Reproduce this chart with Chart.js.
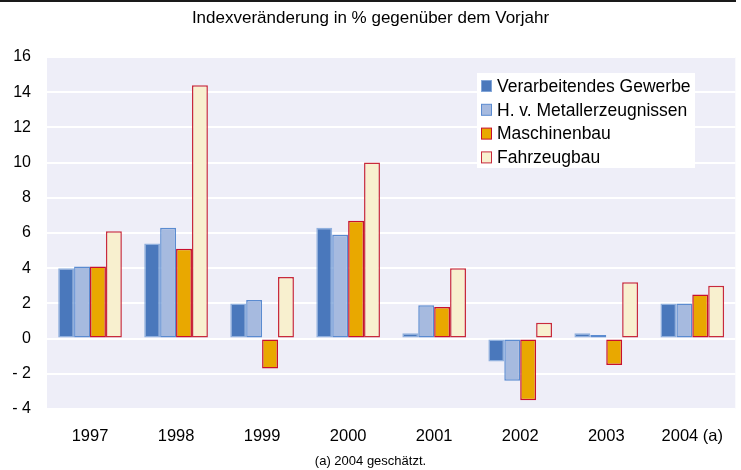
<!DOCTYPE html>
<html lang="de">
<head>
    <meta charset="UTF-8">
    <title>Indexveränderung</title>
    <script src="https://cdn.jsdelivr.net/npm/chart.js"></script>
    <style>
        body {
            margin: 0;
            padding: 0;
            background: #ffffff;
        }
        #wrap {
            width: 741px;
            height: 470px;
        }
    </style>
</head>
<body>
    <div id="wrap"><canvas id="chartCanvas" width="741" height="470"></canvas></div>

    <script>
        // data
        const years = ['1997', '1998', '1999', '2000', '2001', '2002', '2003', '2004 (a)'];
        const seriesNames = ['Verarbeitendes Gewerbe', 'H. v. Metallerzeugnissen', 'Maschinenbau', 'Fahrzeugbau'];
        const verarbeitendes = [4.0, 5.4, 2.0, 6.3, 0.3, -1.3, 0.3, 2.0];
        const metall = [4.1, 6.3, 2.2, 5.9, 1.9, -2.4, 0.2, 2.0];
        const maschinenbau = [4.1, 5.1, -1.7, 6.7, 1.8, -3.5, -1.5, 2.5];
        const fahrzeugbau = [6.1, 14.4, 3.5, 10.0, 4.0, 0.9, 3.2, 3.0];

        const fillColors = ['#4a78bc', '#a6badf', '#e9a800', '#f8f0cf'];
        const lineColors = ['rgba(120,160,215,0.8)', '#5b8bd0', '#c8102e', '#c82a3c'];

        const fontFamily = '"Liberation Sans", Arial, sans-serif';

        // lavender plot area, legend box inside the plot and the dark line on top
        const decoPlugin = {
            id: 'deco',
            beforeDraw(chart) {
                const { ctx, chartArea } = chart;
                ctx.save();
                ctx.fillStyle = '#eeeef8';
                ctx.fillRect(chartArea.left, chartArea.top, chartArea.right - chartArea.left, chartArea.bottom - chartArea.top);
                ctx.restore();
            },
            afterDraw(chart) {
                const ctx = chart.ctx;
                ctx.save();
                ctx.fillStyle = '#1a1a1a';
                ctx.fillRect(0, 0, 736, 2);

                const boxX = 477, boxY = 73, boxW = 218, boxH = 95;
                ctx.fillStyle = '#ffffff';
                ctx.fillRect(boxX, boxY, boxW, boxH);

                ctx.font = '17.5px ' + fontFamily;
                ctx.textBaseline = 'middle';
                chart.data.datasets.forEach((ds, i) => {
                    const cy = 86 + i * 23.8;
                    ctx.fillStyle = ds.backgroundColor;
                    ctx.fillRect(481.5, cy - 5.5, 10, 11);
                    ctx.strokeStyle = ds.borderColor;
                    ctx.lineWidth = 1;
                    ctx.strokeRect(481.5, cy - 5.5, 10, 11);
                    ctx.fillStyle = '#000000';
                    ctx.fillText(ds.label, 497, cy + 1);
                });
                ctx.restore();
            }
        };

        const datasets = [verarbeitendes, metall, maschinenbau, fahrzeugbau].map((vals, i) => ({
            label: seriesNames[i],
            data: vals,
            backgroundColor: fillColors[i],
            borderColor: lineColors[i],
            borderWidth: 1.5,
            borderSkipped: false
        }));

        new Chart(document.getElementById('chartCanvas'), {
            type: 'bar',
            data: {
                labels: years,
                datasets: datasets
            },
            options: {
                responsive: false,
                animation: false,
                categoryPercentage: 0.74,
                barPercentage: 1.0,
                layout: { padding: 0 },
                plugins: {
                    legend: { display: false },
                    tooltip: { enabled: false },
                    title: {
                        display: true,
                        text: 'Indexveränderung in % gegenüber dem Vorjahr',
                        color: '#000000',
                        font: { family: fontFamily, size: 17, weight: 'normal', lineHeight: 1.2 },
                        padding: { top: 8, bottom: 28.6 }
                    },
                    subtitle: {
                        display: true,
                        position: 'bottom',
                        text: '(a) 2004 geschätzt.',
                        color: '#000000',
                        font: { family: fontFamily, size: 13, weight: 'normal', lineHeight: 1.2 },
                        padding: { top: 4.2, bottom: 1.2 }
                    }
                },
                scales: {
                    x: {
                        grid: { display: false, drawTicks: false },
                        border: { display: false },
                        ticks: {
                            color: '#000000',
                            padding: 18,
                            maxRotation: 0,
                            font: { family: fontFamily, size: 16.5 }
                        },
                        afterFit(scale) { scale.height = 40; }
                    },
                    y: {
                        min: -4,
                        max: 16,
                        grid: { color: '#ffffff', lineWidth: 2, drawTicks: false },
                        border: { display: false },
                        ticks: {
                            stepSize: 2,
                            color: '#000000',
                            padding: 16,
                            font: { family: fontFamily, size: 16 },
                            callback: (v) => v < 0 ? '- ' + Math.abs(v) : String(v)
                        },
                        afterFit(scale) { scale.width = 47; }
                    }
                }
            },
            plugins: [decoPlugin]
        });
    </script>
</body>
</html>
